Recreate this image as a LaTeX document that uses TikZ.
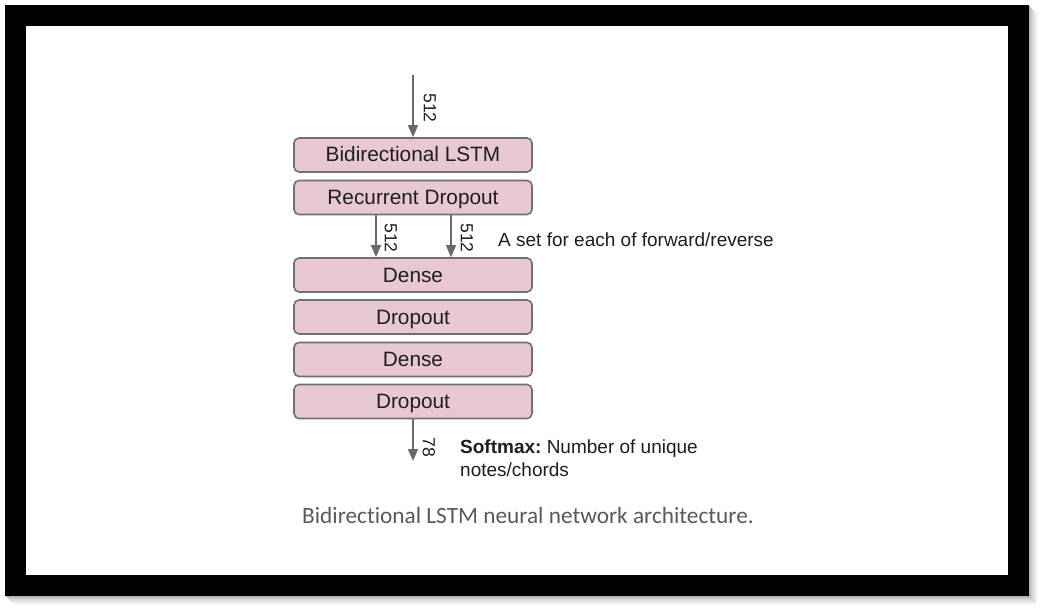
\documentclass[tikz,border=0pt]{standalone}
\usepackage{fontspec}
\setmainfont{Liberation Sans}
\newfontfamily\capfont[Ligatures={NoCommon}]{Carlito}
\usetikzlibrary{arrows.meta}
\definecolor{boxfill}{HTML}{E8C7D4}
\definecolor{boxline}{HTML}{707070}
\definecolor{arrcol}{HTML}{6A6A6A}
\definecolor{txtcol}{HTML}{1E1E1E}
\definecolor{capcol}{HTML}{5A5A5A}
\tikzset{
  layer/.style={draw=boxline, line width=1.6pt, fill=boxfill, rounded corners=5pt,
    minimum width=238pt, minimum height=34pt, inner sep=0pt,
    text height=15pt, text depth=1pt,
    text=txtcol, font=\fontsize{20.8}{23}\selectfont},
  arr/.style={draw=arrcol, line width=1.4pt, -{Triangle[width=10pt,length=12pt]}},
  dimlabel/.style={rotate=-90, text=txtcol, font=\fontsize{17.5}{20}\selectfont, inner sep=0pt},
  note/.style={text=txtcol, font=\fontsize{19}{23}\selectfont, inner sep=0pt, anchor=west}
}
\begin{document}
\begin{tikzpicture}[x=1pt,y=-1pt]
\useasboundingbox (0,0) rectangle (1043,612);
\fill[white] (0,0) rectangle (1043,612);
% shadow
\foreach \d/\c in {8/6,7/8,6/10,5/13,4/16,3/20,2/25,1/30}{
  \fill[black!\c!white] (5+\d,5+\d) rectangle (1029+\d,596+\d);
}
\fill[black] (5,5) rectangle (1029,596);
\fill[white] (26,26) rectangle (1008,575);
% layers
\node[layer] (bl) at (413,155) {Bidirectional LSTM};
\node[layer] (rd) at (413,197.5) {Recurrent Dropout};
\node[layer] (d1) at (413,275) {Dense};
\node[layer] (o1) at (413,317) {Dropout};
\node[layer] (d2) at (413,359.5) {Dense};
\node[layer] (o2) at (413,401.5) {Dropout};
% connectors
\coordinate (in) at (413,75);
\coordinate (la) at (376,0);
\coordinate (lb) at (451,0);
\coordinate (out) at (413,461);
\draw[arr] (in) -- (bl.north);
\draw[arr] (rd.south -| la) -- (d1.north -| la);
\draw[arr] (rd.south -| lb) -- (d1.north -| lb);
\draw[arr] (o2.south) -- (out);
% labels
\node[dimlabel] (l0) at (430,108) {512};
\node[dimlabel] (l1) at (391,238) {512};
\node[dimlabel] (l2) at (467,238) {512};
\node[dimlabel] (l3) at (429,447) {78};
\node[note] (n1) at (498,240) {A set for each of forward/reverse};
\node[note, align=left, anchor=north west] (n2) at (460,440) {\textbf{Softmax:}~Number of unique\\notes/chords};
\node[text=capcol, font=\capfont\fontsize{23.3}{26}\selectfont, inner sep=0pt] (cap) at (528,515) {Bidirectional LSTM neural network architecture.};
\end{tikzpicture}
\end{document}
